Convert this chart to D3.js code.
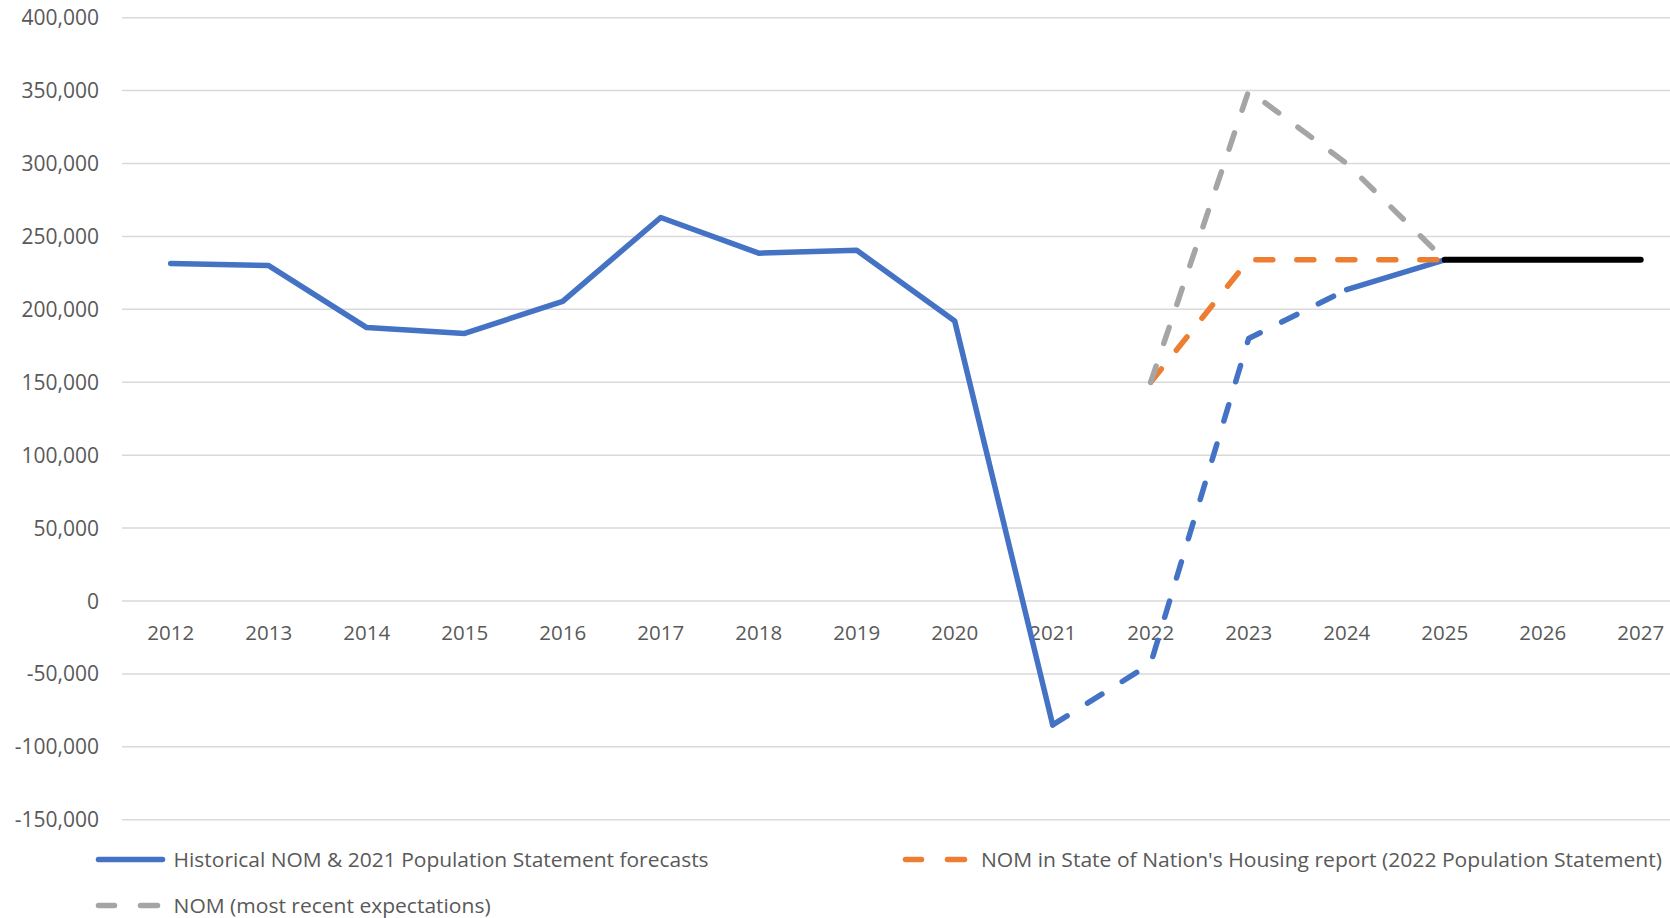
<!DOCTYPE html>
<html>
<head>
<meta charset="utf-8">
<script src="https://cdn.jsdelivr.net/npm/d3@7"></script>
<style>
  html, body { margin: 0; padding: 0; background: #fff; }
  svg { display: block; }
  text { font-family: "Open Sans", "Noto Sans", sans-serif; fill: #595959; }
</style>
</head>
<body>
<svg id="chart" width="1670" height="918"></svg>
<script>
// ---- Data ----
const years = ["2012","2013","2014","2015","2016","2017","2018","2019","2020","2021","2022","2023","2024","2025","2026","2027"];
const yTicks = [-150000, -100000, -50000, 0, 50000, 100000, 150000, 200000, 250000, 300000, 350000, 400000];

// Historical NOM 2012-2021 (solid blue)
const historicalYears = ["2012","2013","2014","2015","2016","2017","2018","2019","2020","2021"];
const historicalNOM = [231500, 230000, 187500, 183500, 205500, 263000, 238500, 240500, 192000, -85000];

// 2021 Population Statement forecasts 2021-2025 (blue)
const ps2021Years = ["2021","2022","2023","2024","2025"];
const ps2021Forecast = [-85000, -43000, 180000, 213500, 234000];

// NOM in State of Nation's Housing report (orange)
const sonhrYears = ["2022","2023","2024","2025"];
const sonhrNOM = [150000, 234000, 234000, 234000];

// NOM most recent expectations (grey)
const recentYears = ["2022","2023","2024","2025"];
const recentNOM = [150000, 350000, 300000, 234000];

// Long-run assumption (black)
const longRunYears = ["2025","2026","2027"];
const longRunNOM = [234000, 234000, 234000];

const legendLabels = [
  "Historical NOM & 2021 Population Statement forecasts",
  "NOM in State of Nation's Housing report (2022 Population Statement)",
  "NOM (most recent expectations)"
];

// ---- Layout ----
const svg = d3.select("#chart");
const plotLeft = 122, plotRight = 1670;
const x = d3.scalePoint().domain(years).range([170.7, 1640.7]);
const y = d3.scaleLinear().domain([-150000, 400000]).range([819.7, 17.7]);

const BLUE = "#4472C4", ORANGE = "#ED7D31", GREY = "#A5A5A5";

// gridlines
svg.append("g").selectAll("line").data(yTicks).join("line")
  .attr("x1", plotLeft).attr("x2", plotRight)
  .attr("y1", d => y(d)).attr("y2", d => y(d))
  .attr("stroke", "#d9d9d9").attr("stroke-width", 1.5);

// y axis labels
const fmt = d3.formatLocale({ decimal: ".", thousands: ",", grouping: [3], currency: ["", ""], minus: "-" }).format(",");
svg.append("g").selectAll("text").data(yTicks).join("text")
  .attr("x", 99).attr("y", d => y(d)).attr("dy", "0.36em")
  .attr("text-anchor", "end").style("font-size", "21px")
  .text(d => fmt(d));

// x axis labels (below zero line)
svg.append("g").selectAll("text").data(years).join("text")
  .attr("x", d => x(d)).attr("y", y(0) + 32).attr("dy", "0.36em")
  .attr("text-anchor", "middle").style("font-size", "20.5px")
  .text(d => d);

const line = d3.line().x(d => x(d[0])).y(d => y(d[1]));
const zip = (a, b) => a.map((v, i) => [v, b[i]]);
const dash = "17,24";

function drawPath(pts, color, dashed, width) {
  svg.append("path").datum(pts)
    .attr("d", line)
    .attr("fill", "none")
    .attr("stroke", color)
    .attr("stroke-width", width || 5.5)
    .attr("stroke-linecap", "round")
    .attr("stroke-linejoin", "round")
    .attr("stroke-dasharray", dashed ? dash : null);
}

// blue
drawPath(zip(historicalYears, historicalNOM), BLUE, false);
const psPts = zip(ps2021Years, ps2021Forecast);
drawPath(psPts.slice(0, 4), BLUE, true);
drawPath(psPts.slice(3), BLUE, false);
// orange
drawPath(zip(sonhrYears, sonhrNOM), ORANGE, true);
// grey
drawPath(zip(recentYears, recentNOM), GREY, true);
// black
drawPath(zip(longRunYears, longRunNOM), "#000", false, 6);

// legend
const legendItems = [
  { label: legendLabels[0], color: BLUE, dashed: false, lx: 96, ly: 859.5, tx: 173.6, tw: 535 },
  { label: legendLabels[1], color: ORANGE, dashed: true, lx: 903, ly: 859.5, tx: 981, tw: 681 },
  { label: legendLabels[2], color: GREY, dashed: true, lx: 96, ly: 905.5, tx: 173.6, tw: 317 }
];
const lg = svg.append("g");
legendItems.forEach(it => {
  if (it.dashed) {
    lg.append("line").attr("x1", it.lx + 2.5).attr("x2", it.lx + 18.5)
      .attr("y1", it.ly).attr("y2", it.ly)
      .attr("stroke", it.color).attr("stroke-width", 5.5).attr("stroke-linecap", "round");
    lg.append("line").attr("x1", it.lx + 44.5).attr("x2", it.lx + 61.5)
      .attr("y1", it.ly).attr("y2", it.ly)
      .attr("stroke", it.color).attr("stroke-width", 5.5).attr("stroke-linecap", "round");
  } else {
    lg.append("line").attr("x1", it.lx + 2.5).attr("x2", it.lx + 66.5)
      .attr("y1", it.ly).attr("y2", it.ly)
      .attr("stroke", it.color).attr("stroke-width", 5.5).attr("stroke-linecap", "round");
  }
  lg.append("text").attr("x", it.tx).attr("y", it.ly).attr("dy", "0.36em")
    .style("font-size", "20px")
    .attr("textLength", it.tw).attr("lengthAdjust", "spacingAndGlyphs")
    .text(it.label);
});
</script>
</body>
</html>
